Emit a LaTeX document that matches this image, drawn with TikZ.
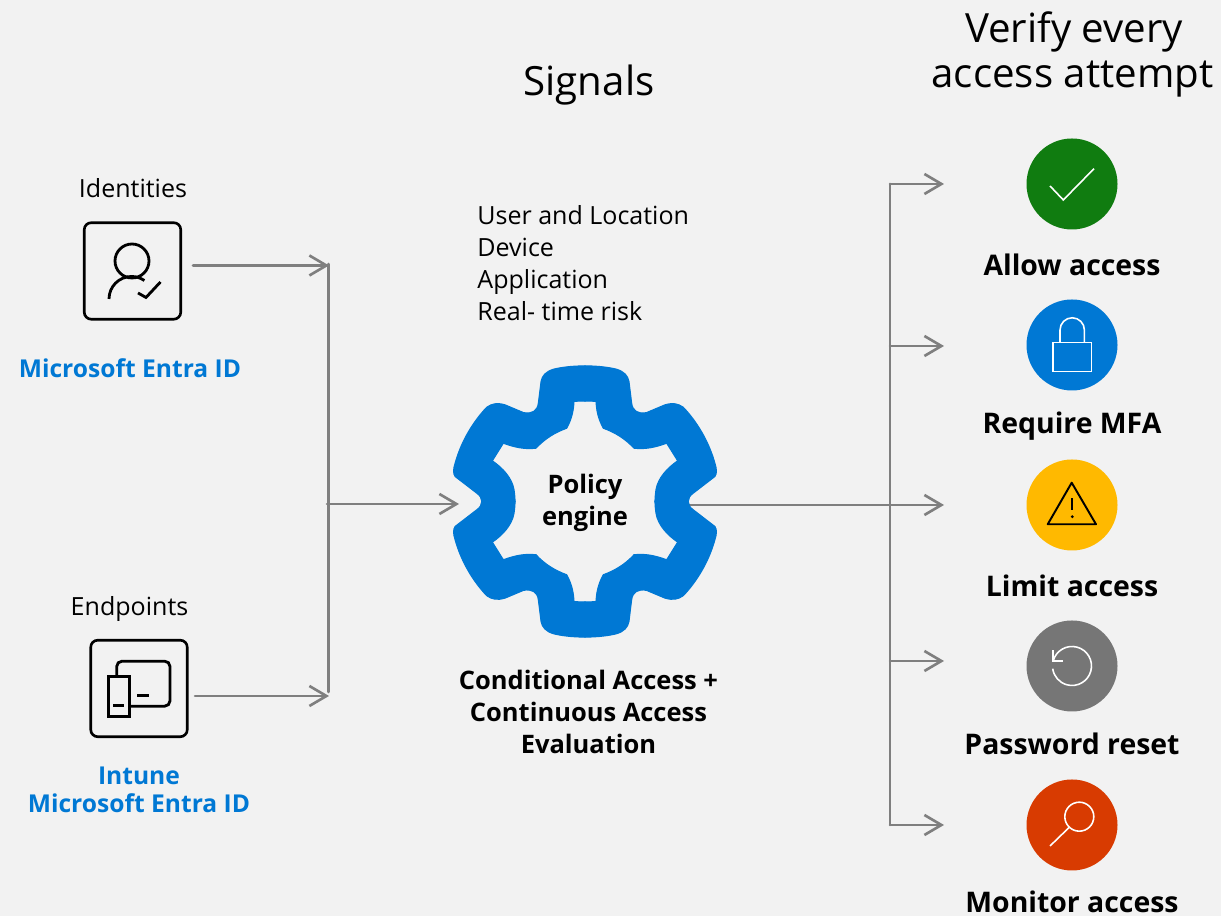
\documentclass[tikz,border=0pt]{standalone}
\usepackage{fontspec}
\setmainfont{Open Sans}
\usepackage{tkz-euclide}
\usetikzlibrary{arrows.meta,calc}
\definecolor{BackClr}{HTML}{F2F2F2}
\definecolor{WireClr}{HTML}{7F7F7F}
\definecolor{GearClr}{HTML}{0078D4}
\definecolor{AllowClr}{HTML}{107C10}
\definecolor{LimitClr}{HTML}{FFB900}
\definecolor{ResetClr}{HTML}{767676}
\definecolor{MonitorClr}{HTML}{D83B01}
\tikzset{
  wire/.style={line width=.75pt,color=WireClr},
  wiretip/.style={wire,-{Straight Barb[length=.17cm,width=.2cm]}},
  iconbox/.style={draw=black,line width=.75pt,rounded corners=.07cm,minimum size=.965cm,inner sep=0pt},
  statusdot/.style={circle,minimum size=.91cm,inner sep=0pt},
  glyph/.style={line width=.45pt,color=white},
  inkline/.style={line width=.8pt,color=black},
  titletext/.style={font=\fontsize{11.45}{12.9}\selectfont,align=center},
  plaintext/.style={font=\fontsize{7.12}{9.1}\selectfont,align=left},
  strongtext/.style={font=\fontsize{7.25}{9.1}\selectfont\bfseries,align=center},
  brandtext/.style={font=\fontsize{7}{7.95}\selectfont\bfseries,align=center,text=GearClr},
  verdict/.style={font=\fontsize{8.08}{9.1}\selectfont\bfseries,align=center}
}

\begin{document}
\begin{tikzpicture}
\fill[BackClr] (0,0) rectangle (12.21,9.16);
\useasboundingbox (0,0) rectangle (12.21,9.16);

\tkzDefPoints{1.93/6.505/IdOut,3.29/6.505/IdTip,1.95/2.20/EpOut,3.29/2.20/EpTip}
\tkzDefPoints{3.285/6.52/BusTop,3.285/2.24/BusBot,3.27/4.12/BusMid,4.59/4.12/GearIn}
\tkzDefPoints{6.89/4.11/GearOut,8.90/7.32/FanTop,8.90/0.91/FanBot,8.90/5.70/FanB,8.90/2.55/FanD}
\tkzDefPoints{9.44/7.32/AllowTip,9.44/5.70/MfaTip,9.44/4.11/LimitTip,9.44/2.55/ResetTip,9.44/0.91/MonitorTip}
\tkzDefPoints{5.85/4.145/G}

% wires
\tkzDrawSegments[wire](BusTop,BusBot FanTop,FanBot)
\tkzDrawSegments[wiretip](IdOut,IdTip EpOut,EpTip BusMid,GearIn GearOut,LimitTip)
\tkzDrawSegments[wiretip](FanTop,AllowTip FanB,MfaTip FanD,ResetTip FanBot,MonitorTip)

% gear, one quarter at a time
\foreach \sx/\sy in {1/1,-1/1,1/-1,-1/-1}{
\begin{scope}[shift={(G)},scale=.01,xscale=\sx,yscale=\sy]
\fill[GearClr,draw=GearClr,line width=.3pt] (0,135.7) .. controls (14,135.7) and (25,134) .. (31.7,132.3)
  .. controls (39,130) and (43,126) .. (44,120) -- (46.7,98.3)
  .. controls (47.5,91) and (53,87) .. (61.7,89) -- (80,96.7)
  .. controls (88,99) and (93,98) .. (98.3,94.3)
  .. controls (112,80) and (124,60) .. (130,38.3)
  .. controls (132,32) and (132,28) .. (130,25) -- (108.3,8.3)
  .. controls (105,6) and (103.3,3) .. (103.3,0) -- (70,0)
  .. controls (70,4) and (70.5,8) .. (71,11.7)
  .. controls (73,24) and (83,34) .. (92.7,40.7) -- (81.7,58.3)
  .. controls (70,54) and (60,52) .. (49,53.3)
  .. controls (40,63) and (30,69) .. (18.3,73.3)
  .. controls (13,83) and (11.5,91) .. (11,100)
  .. controls (7,100.5) and (3,100.5) .. (0,100.5) -- cycle;
\end{scope}}
\node[strongtext] (Engine) at (5.85,4.13) {Policy\\engine};

% left hand boxes
\node[iconbox] (IdBox) at (1.325,6.45) {};
\begin{scope}[shift={(IdBox)},scale=.01]
\draw[inkline] (-.5,10) circle (17);
\draw[inkline] (-23.5,-28) arc (180:55:22.5);
\draw[inkline] (5.5,-22) -- (13.5,-26.5) -- (28,-11);
\end{scope}
\node[iconbox] (EpBox) at (1.39,2.275) {};
\begin{scope}[shift={(EpBox)},scale=.01]
\draw[inkline,rounded corners=1.5] (-22.3,13) -- (-22.3,27.3) -- (31,27.3) -- (31,-17.7) -- (-9.7,-17.7);
\draw[inkline] (-30.7,12) rectangle (-9.7,-27.7);
\draw[inkline] (-25.7,-17) -- (-15,-17);
\draw[inkline,line width=.9pt] (-1.7,-7) -- (10,-7);
\end{scope}

% status dots
\node[statusdot,fill=AllowClr] (AllowDot) at (10.72,7.32) {};
\begin{scope}[shift={(AllowDot)},scale=.01]
\draw[glyph] (-22,-2) -- (-8.7,-16) -- (22,15.3);
\end{scope}
\node[statusdot,fill=GearClr] (MfaDot) at (10.72,5.71) {};
\begin{scope}[shift={(MfaDot)},scale=.01]
\draw[glyph] (-19.3,2.3) rectangle (19.3,-26.7);
\draw[glyph] (-12,2.3) -- (-12,15) arc (180:0:12.2) -- (12.4,2.3);
\end{scope}
\node[statusdot,fill=LimitClr] (LimitDot) at (10.72,4.11) {};
\begin{scope}[shift={(LimitDot)},scale=.01]
\draw[inkline,line join=round,line width=.55pt] (-.3,22.3) -- (-24.3,-19.3) -- (24,-19.3) -- cycle;
\draw[inkline,line width=.55pt] (-.3,6.7) -- (-.3,-5);
\fill (.3,-11.7) circle (1.6);
\end{scope}
\node[statusdot,fill=ResetClr] (ResetDot) at (10.72,2.50) {};
\begin{scope}[shift={(ResetDot)},scale=.01]
\draw[glyph] (165:19.5) arc (165:-172:19.5);
\draw[glyph] (-19.3,15.7) -- (-19.3,5) -- (-8.7,5);
\end{scope}
\node[statusdot,fill=MonitorClr] (MonitorDot) at (10.72,0.91) {};
\begin{scope}[shift={(MonitorDot)},scale=.01]
\draw[glyph] (7.3,8.3) circle (14.5);
\draw[glyph] (-2.7,-2.3) -- (-22,-21);
\end{scope}

% titles
\node[titletext] (SignalTitle) at (5.89,8.31) {Signals};
\node[titletext] (VerifyTitle) at (10.725,8.615) {\hspace{.03cm}Verify every\\access attempt};
\node[plaintext,anchor=west] (SignalList) at (4.65,6.53) {User and Location\\Device\\Application\\Real- time risk};
\node[plaintext] (IdLabel) at (1.33,7.28) {Identities};
\node[plaintext] (EpLabel) at (1.295,3.07) {Endpoints};
\node[brandtext] (IdBrand) at (1.30,5.48) {Microsoft Entra ID};
\node[brandtext] (EpBrand) at (1.39,1.26) {Intune\\Microsoft Entra ID};
\node[strongtext] (EngineName) at (5.885,2.04) {Conditional Access +\\Continuous Access\\Evaluation};
\node[verdict] (AllowLabel) at (10.72,6.51) {Allow access};
\node[verdict] (MfaLabel) at (10.72,4.90) {Require MFA};
\node[verdict] (LimitLabel) at (10.72,3.30) {Limit access};
\node[verdict] (ResetLabel) at (10.72,1.72) {Password reset};
\node[verdict] (MonitorLabel) at (10.72,0.14) {Monitor access};
\end{tikzpicture}
\end{document}
